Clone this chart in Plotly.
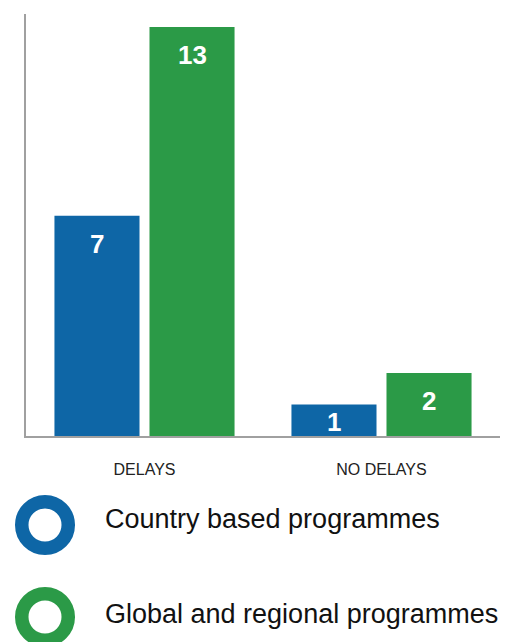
import plotly.graph_objects as go

# Programme status counts
categories = ["DELAYS", "NO DELAYS"]
series_names = ["Country based programmes", "Global and regional programmes"]
country_based = [7, 1]
global_regional = [13, 2]

BLUE = "#0E66A6"
GREEN = "#2B9A47"
FONT = "Liberation Sans, Arial, sans-serif"

fig = go.Figure()
fig.add_trace(go.Bar(x=categories, y=country_based, name=series_names[0],
                     marker=dict(color=BLUE, line=dict(width=0)), showlegend=False))
fig.add_trace(go.Bar(x=categories, y=global_regional, name=series_names[1],
                     marker=dict(color=GREEN, line=dict(width=0)), showlegend=False))

# Value labels inside the bars, near the top
annotations = []
for vals, shift in ((country_based, -47.5), (global_regional, 47.5)):
    for cat, v in zip(categories, vals):
        annotations.append(dict(
            x=cat, y=max(v - 0.89, 0.45), xref="x", yref="y",
            xshift=shift, text=f"<b>{v}</b>", showarrow=False,
            yanchor="middle", font=dict(family=FONT, size=26, color="white")))

# Legend drawn as rings with labels beneath the chart
colors = [BLUE, GREEN]
ring_y = [-0.2109, -0.4289]
text_y = [-0.1967, -0.4218]
shapes = []
for name, c, ry, ty in zip(series_names, colors, ring_y, text_y):
    shapes.append(dict(type="circle", xref="paper", yref="paper",
                       xsizemode="pixel", ysizemode="pixel",
                       xanchor=0.0401, yanchor=ry,
                       x0=-23.25, x1=23.25, y0=-23.25, y1=23.25,
                       line=dict(color=c, width=13.5), fillcolor="rgba(0,0,0,0)"))
    annotations.append(dict(x=0.162, y=ty, xref="paper", yref="paper",
                            xanchor="left", yanchor="middle", showarrow=False,
                            text=name, font=dict(family=FONT, size=27, color="#111111")))

fig.update_layout(
    width=507, height=642,
    margin=dict(l=26, r=7, t=14, b=206),
    paper_bgcolor="white", plot_bgcolor="white",
    barmode="group", bargap=0.198, bargroupgap=0.105,
    annotations=annotations, shapes=shapes,
    xaxis=dict(range=[-0.5, 1.5], showgrid=False, zeroline=False,
               showline=True, linecolor="#A0A0A0", linewidth=2,
               ticks="", ticklabelstandoff=18,
               tickfont=dict(family=FONT, size=16, color="#222222")),
    yaxis=dict(range=[0, 13.41], showgrid=False, zeroline=False,
               showline=True, linecolor="#A0A0A0", linewidth=2,
               showticklabels=False, ticks=""),
)

fig.write_html("out.html")
